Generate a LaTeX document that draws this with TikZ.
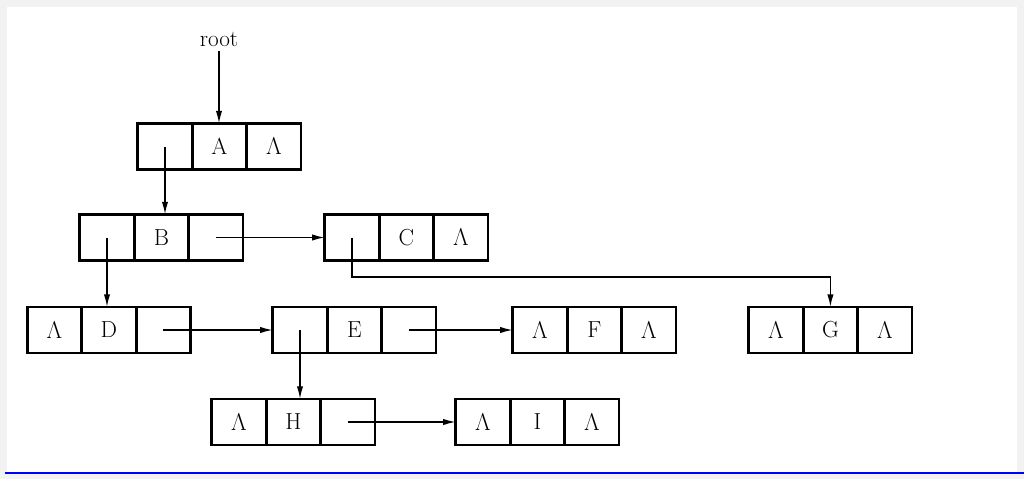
\documentclass[tikz,border=0pt]{standalone}
\usepackage{tikz}
\usetikzlibrary{positioning,arrows.meta}
\definecolor{pagegray}{RGB}{242,242,242}
\tikzset{
  cell/.style={draw,line width=2pt,minimum width=1.36cm,minimum height=1.15cm,
    inner sep=0pt,outer sep=0pt,font=\fontsize{16.5}{19}\selectfont},
  ptr/.style={line width=1.1pt,-{Latex[length=9pt,width=4.5pt]}}
}
% one record: left pointer, data, right pointer
\newcommand{\record}[5]{%
  \node[cell] (#1l) at #2 {#3};
  \node[cell,right=0pt of #1l] (#1m) {#4};
  \node[cell,right=0pt of #1m] (#1r) {#5};}

\begin{document}
\begin{tikzpicture}[x=0.025cm,y=0.025cm]
        \useasboundingbox (0,0) rectangle (1024,-479);
        \fill[pagegray] (0,0) rectangle (1024,-479);
        \fill[white] (7,-7) rectangle (1017,-472);
        \draw[blue,line width=1pt] (5,-473) -- (1024,-473);
        % the records
        \record{A}{(165,-146.5)}{}{A}{$\Lambda$}
        \record{B}{(107,-237.5)}{}{B}{}
        \record{C}{(352,-237.5)}{}{C}{$\Lambda$}
        \record{D}{(54.5,-330)}{$\Lambda$}{D}{}
        \record{E}{(300,-330)}{}{E}{}
        \record{F}{(540,-330)}{$\Lambda$}{F}{$\Lambda$}
        \record{G}{(776,-330)}{$\Lambda$}{G}{$\Lambda$}
        \record{H}{(239,-422)}{$\Lambda$}{H}{}
        \record{I}{(483,-422)}{$\Lambda$}{I}{$\Lambda$}
        \node[font=\fontsize{16.5}{19}\selectfont] (root) at (219,-39) {root};
        % pointers
        \draw[ptr] (root.south) -- (root.south |- Am.north);
        \draw[ptr] (Al.center) -- (Al.center |- Bm.north);
        \draw[ptr] (Br.center) -- (Cl.west);
        \draw[ptr] (Bl.center) -- (Bl.center |- Dm.north);
        \draw[ptr] (Cl.center) |- ([yshift=0.75cm]Gm.north) -- (Gm.north);
        \draw[ptr] (Dr.center) -- (El.west);
        \draw[ptr] (Er.center) -- (Fl.west);
        \draw[ptr] (El.center) -- (El.center |- Hm.north);
        \draw[ptr] (Hr.center) -- (Il.west);
      \end{tikzpicture}
\end{document}
